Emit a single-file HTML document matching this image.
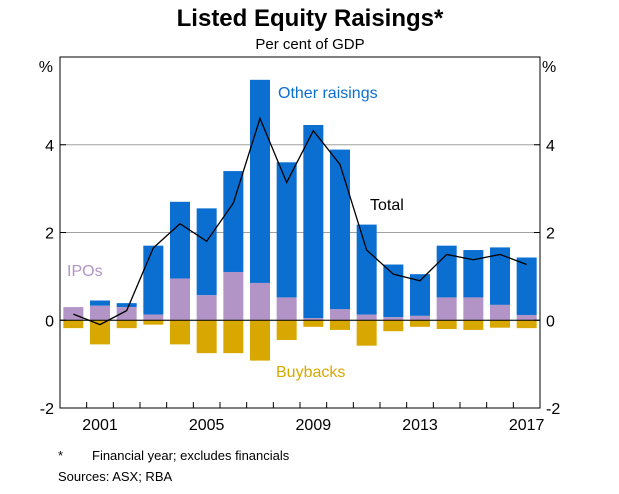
<!DOCTYPE html>
<html><head><meta charset="utf-8"><style>
body{margin:0;background:#fff;font-family:"Liberation Sans",sans-serif}
svg text{font-family:"Liberation Sans",sans-serif}
</style></head><body>
<svg id="c" width="619" height="489" viewBox="0 0 619 489">
<text x="310" y="26" font-size="24" font-weight="bold" text-anchor="middle">Listed Equity Raisings*</text>
<text x="310" y="49" font-size="15" text-anchor="middle">Per cent of GDP</text>
<g id="plot"></g>
<text x="58" y="460" font-size="13">*</text>
<text x="92" y="460" font-size="13">Financial year; excludes financials</text>
<text x="58" y="481" font-size="13">Sources:   ASX; RBA</text>
</svg>
<script>
const years=[2000,2001,2002,2003,2004,2005,2006,2007,2008,2009,2010,2011,2012,2013,2014,2015,2016,2017];
const ipos=[0.3,0.33,0.3,0.13,0.95,0.57,1.1,0.85,0.52,0.05,0.25,0.13,0.07,0.1,0.52,0.52,0.35,0.12];
const otherTop=[0.3,0.45,0.39,1.7,2.7,2.55,3.4,5.48,3.6,4.45,3.89,2.18,1.27,1.05,1.7,1.6,1.66,1.43];
const buybacks=[-0.18,-0.55,-0.18,-0.1,-0.55,-0.75,-0.75,-0.92,-0.45,-0.15,-0.22,-0.58,-0.25,-0.15,-0.2,-0.22,-0.17,-0.18];
const total=[0.14,-0.1,0.22,1.65,2.2,1.8,2.67,4.6,3.14,4.32,3.55,1.6,1.05,0.9,1.5,1.38,1.5,1.27];
const yTicks=[-2,0,2,4];
const xLabels=[2001,2005,2009,2013,2017];
const L=60,R=540,T=57,B=408,ymin=-2,ymax=6;
const y=v=>B-(v-ymin)/(ymax-ymin)*(B-T);
const step=(R-L)/18;
const x=yr=>L+(yr-2000+0.5)*step;
const g=document.getElementById('plot');
const NS='http://www.w3.org/2000/svg';
function mk(t,a){const e=document.createElementNS(NS,t);for(const k in a)e.setAttribute(k,a[k]);g.appendChild(e);return e;}
yTicks.forEach(v=>{let gl=mk('line',{x1:L,x2:R,y1:y(v),y2:y(v),stroke:'#a0a0a0','stroke-width':1});
 
 });
const bw=20;
years.forEach((yr,i)=>{
 let e=mk('rect',{x:x(yr)-bw/2,y:y(otherTop[i]),width:bw,height:y(ipos[i])-y(otherTop[i]),fill:'#0a6fd0'});
 
 
 e=mk('rect',{x:x(yr)-bw/2,y:y(ipos[i]),width:bw,height:y(0)-y(ipos[i]),fill:'#b294c6'});
 
 
 e=mk('rect',{x:x(yr)-bw/2,y:y(0),width:bw,height:y(buybacks[i])-y(0),fill:'#d9a800'});
 
 
});
let zl=mk('line',{x1:L,x2:R,y1:y(0),y2:y(0),stroke:'#000','stroke-width':1});


let pl=mk('polyline',{points:years.map((yr,i)=>x(yr)+','+y(total[i])).join(' '),fill:'none',stroke:'#000','stroke-width':1.3});


let fr=mk('rect',{x:L,y:T,width:R-L,height:B-T,fill:'none',stroke:'#000','stroke-width':1});


yTicks.forEach(v=>{
 mk('line',{x1:L,x2:L+6,y1:y(v),y2:y(v),stroke:'#000'});
 mk('line',{x1:R-6,x2:R,y1:y(v),y2:y(v),stroke:'#000'});
 let t=mk('text',{x:L-6,y:y(v)+6,'font-size':16,'text-anchor':'end'});t.textContent=v;
 
 
 t=mk('text',{x:R+6,y:y(v)+6,'font-size':16});t.textContent=v;
 
 
});
for(let k=1;k<18;k++){mk('line',{x1:L+k*step,x2:L+k*step,y1:B,y2:B-6,stroke:'#000'});}
xLabels.forEach(yr=>{let t=mk('text',{x:x(yr),y:B+22,'font-size':16,'text-anchor':'middle'});t.textContent=yr;
 
 });
[['%',L-7,'end','y-unit-left'],['%',R+2,'start','y-unit-right']].forEach(a=>{let t=mk('text',{x:a[1],y:72,'font-size':16,'text-anchor':a[2]});t.textContent=a[0];
 
 });
[['Other raisings',278,98,'#0a6fd0','label-other-raisings'],['Total',370,210,'#000','label-total'],['IPOs',67,276,'#b294c6','label-ipos'],['Buybacks',276,377,'#d9a800','label-buybacks']].forEach(a=>{
 let t=mk('text',{x:a[1],y:a[2],'font-size':16,fill:a[3]});t.textContent=a[0];
 
 });
</script>
</body></html>
